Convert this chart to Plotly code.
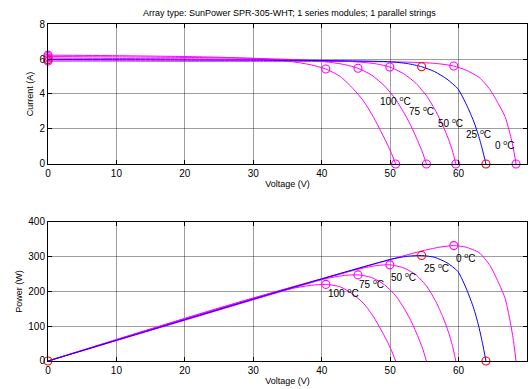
import plotly.graph_objects as go
from plotly.subplots import make_subplots

# ---- data ----
temps = ["0", "25", "50", "75", "100"]

V0 = [0, 10, 20, 30, 40, 50, 55, 57.3, 59.3, 61.1, 63.0, 64.6, 65.8, 66.8, 67.4, 67.95, 68.4]
I0 = [5.88, 5.88, 5.87, 5.87, 5.86, 5.84, 5.79, 5.72, 5.60, 5.36, 4.95, 4.25, 3.45, 2.7, 1.9, 1.0, 0]

V25 = [0, 10, 20, 30, 40, 45, 50, 52.5, 54.6, 56.5, 58.3, 59.9, 61.2, 62.2, 62.9, 63.5, 64.0]
I25 = [5.96, 5.95, 5.94, 5.93, 5.91, 5.89, 5.84, 5.74, 5.56, 5.28, 4.85, 4.3, 3.35, 2.45, 1.65, 0.8, 0]

V50 = [0, 10, 20, 30, 35, 40, 45, 48, 49.95, 52, 53.8, 55.4, 56.7, 57.7, 58.5, 59.1, 59.6]
I50 = [6.05, 6.03, 6.01, 5.98, 5.96, 5.92, 5.84, 5.72, 5.54, 5.15, 4.6, 3.85, 3.0, 2.2, 1.45, 0.75, 0]

V75 = [0, 10, 20, 30, 35, 38, 41, 43.5, 45.3, 47.3, 49.2, 50.8, 52.2, 53.2, 54.0, 54.7, 55.3]
I75 = [6.14, 6.12, 6.09, 6.04, 5.98, 5.92, 5.82, 5.67, 5.47, 5.08, 4.45, 3.7, 2.8, 2.05, 1.35, 0.7, 0]

V100 = [0, 10, 20, 25, 30, 33, 36, 38.5, 40.6, 42.7, 44.6, 46.2, 47.6, 48.6, 49.5, 50.2, 50.8]
I100 = [6.22, 6.19, 6.14, 6.10, 6.03, 5.95, 5.83, 5.66, 5.43, 5.0, 4.3, 3.55, 2.65, 1.9, 1.2, 0.6, 0]

# index of maximum power point in each curve
mpp_idx = [8, 8, 8, 8, 8]

x_ticks = [0, 10, 20, 30, 40, 50, 60, 70]
i_ticks = [0, 2, 4, 6, 8]
p_ticks = [0, 100, 200, 300, 400]

curves = [(V0, I0), (V25, I25), (V50, I50), (V75, I75), (V100, I100)]

MAG = "#ff00ff"
BLUE = "#0000ff"
RED = "#ff0000"
FONT = "Liberation Sans, Arial, sans-serif"

fig = make_subplots(rows=2, cols=1, vertical_spacing=0.172)

order = [0, 2, 3, 4, 1]  # blue (25 C) on top
for k in order:
    V, I = curves[k]
    P = [v * i for v, i in zip(V, I)]
    is25 = temps[k] == "25"
    lc = BLUE if is25 else MAG
    mc = RED if is25 else MAG
    m = mpp_idx[k]
    mk = dict(symbol="circle-open", size=8, color=mc, line=dict(width=1.1))
    fig.add_trace(go.Scatter(x=V, y=I, mode="lines", line=dict(color=lc, width=1.0, shape="spline", smoothing=0.6),
                             hoverinfo="skip", showlegend=False), row=1, col=1)
    fig.add_trace(go.Scatter(x=[V[0], V[m], V[-1]], y=[I[0], I[m], I[-1]], mode="markers",
                             marker=mk, showlegend=False, cliponaxis=False), row=1, col=1)
    fig.add_trace(go.Scatter(x=V, y=P, mode="lines", line=dict(color=lc, width=1.0, shape="spline", smoothing=0.6),
                             hoverinfo="skip", showlegend=False), row=2, col=1)
    if is25:
        fig.add_trace(go.Scatter(x=[V[0], V[m], V[-1]], y=[P[0], P[m], P[-1]], mode="markers",
                                 marker=mk, showlegend=False, cliponaxis=False), row=2, col=1)
    else:
        fig.add_trace(go.Scatter(x=[V[m]], y=[P[m]], mode="markers",
                                 marker=mk, showlegend=False, cliponaxis=False), row=2, col=1)

# temperature labels
top_lbl_pos = {"100": (48.2, 3.6), "75": (52.4, 3.03), "50": (56.7, 2.33), "25": (60.8, 1.7), "0": (65.0, 1.07)}
bot_lbl_pos = {"100": (40.6, 195), "75": (45.2, 221), "50": (49.9, 243), "25": (54.6, 269), "0": (59.3, 296)}
for t in temps:
    txt = f"{t} <sup>o</sup>C"
    x, y = top_lbl_pos[t]
    fig.add_annotation(x=x, y=y, text=txt, showarrow=False, xanchor="left", yanchor="middle",
                       font=dict(size=10, color="black", family=FONT), xref="x", yref="y")
    x, y = bot_lbl_pos[t]
    fig.add_annotation(x=x, y=y, text=txt, showarrow=False, xanchor="left", yanchor="middle",
                       font=dict(size=10, color="black", family=FONT), xref="x2", yref="y2")

axis_common = dict(showline=True, linecolor="black", linewidth=1, mirror="ticks", ticks="inside", ticklen=4,
                   tickcolor="black", showgrid=True, gridcolor="rgba(0,0,0,0.38)", gridwidth=1, zeroline=False,
                   tickfont=dict(size=10, color="black", family=FONT))

fig.update_xaxes(range=[0, 70], tickvals=x_ticks, **axis_common)
fig.update_xaxes(title=dict(text="Voltage (V)", font=dict(size=9, color="black", family=FONT), standoff=2), row=1, col=1)
fig.update_xaxes(title=dict(text="Voltage (V)", font=dict(size=9, color="black", family=FONT), standoff=2), row=2, col=1)
fig.update_yaxes(range=[0, 8], tickvals=i_ticks, title=dict(text="Current (A)", font=dict(size=9, color="black", family=FONT), standoff=4),
                 row=1, col=1, **axis_common)
fig.update_yaxes(range=[0, 400], tickvals=p_ticks, title=dict(text="Power (W)", font=dict(size=9, color="black", family=FONT), standoff=4),
                 row=2, col=1, **axis_common)

fig.update_layout(
    width=531, height=389,
    margin=dict(l=48, r=4, t=24, b=28),
    paper_bgcolor="white", plot_bgcolor="white",
    title=dict(text="Array type: SunPower SPR-305-WHT; 1 series modules; 1 parallel strings",
               x=0.545, xanchor="center", y=0.967, yanchor="middle",
               font=dict(size=9, color="black", family=FONT)),
)
fig.layout.yaxis.domain = [0.5846, 1.0]
fig.layout.yaxis2.domain = [0.0, 0.4125]

fig.write_html("out.html")
